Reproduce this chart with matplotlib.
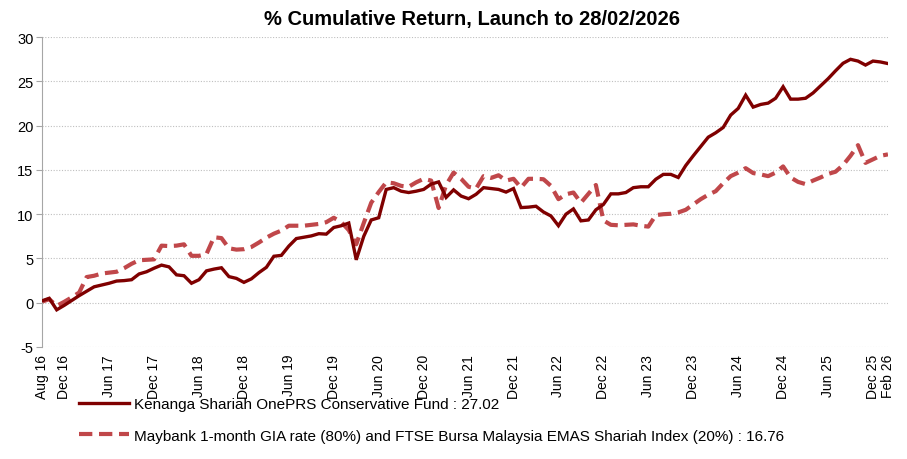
"""
% cumulative return chart: Kenanga Shariah OnePRS Conservative Fund vs benchmark.
"""

import numpy as np
import matplotlib
matplotlib.use("Agg")
import matplotlib.pyplot as plt

plt.rcParams['font.family'] = ['Liberation Sans', 'DejaVu Sans']
plt.rcParams['axes.unicode_minus'] = False

# monthly cumulative returns (%), launch (Aug 16) to Feb 26
fund = [0.2, 0.5, -0.8, -0.3, 0.25, 0.8, 1.3, 1.8, 2.0, 2.2,
        2.45, 2.5, 2.6, 3.25, 3.5, 3.9, 4.25, 4.05, 3.15, 3.05,
        2.2, 2.6, 3.6, 3.8, 3.95, 2.95, 2.75, 2.3, 2.7, 3.4,
        4.0, 5.25, 5.35, 6.4, 7.25, 7.4, 7.55, 7.8, 7.75, 8.5,
        8.7, 9.0, 4.85, 7.5, 9.35, 9.6, 12.8, 13.0, 12.6, 12.45,
        12.6, 12.8, 13.4, 13.65, 11.9, 12.75, 12.05, 11.75, 12.25, 13.0,
        12.9, 12.8, 12.5, 12.9, 10.75, 10.8, 10.9, 10.25, 9.8, 8.7,
        10.0, 10.6, 9.25, 9.35, 10.5, 11.1, 12.3, 12.3, 12.45, 13.0,
        13.1, 13.1, 13.95, 14.5, 14.5, 14.15, 15.5, 16.6, 17.65, 18.7,
        19.2, 19.8, 21.2, 21.95, 23.45, 22.1, 22.4, 22.55, 23.1, 24.4,
        23.0, 23.0, 23.1, 23.7, 24.5, 25.3, 26.2, 27.05, 27.5, 27.3,
        26.85, 27.3, 27.2, 27.02]

benchmark = [0.1, 0.4, -0.35, 0.1, 0.6, 1.15, 2.9, 3.05, 3.3, 3.4,
             3.5, 3.9, 4.4, 4.8, 4.85, 4.9, 6.45, 6.4, 6.45, 6.6,
             5.3, 5.3, 5.5, 7.4, 7.3, 6.15, 6.0, 6.05, 6.3, 6.8,
             7.35, 7.8, 8.15, 8.7, 8.7, 8.7, 8.8, 8.9, 9.1, 9.6,
             9.1, 8.2, 6.6, 9.0, 11.3, 12.5, 13.6, 13.5, 13.2, 13.1,
             13.6, 14.0, 13.8, 10.7, 13.3, 14.7, 14.0, 13.1, 12.9, 14.3,
             14.1, 14.4, 13.8, 14.0, 13.0, 14.0, 14.0, 13.95, 13.2, 11.7,
             12.25, 12.45, 11.3, 12.3, 13.3, 9.3, 8.8, 8.75, 8.8, 8.85,
             8.7, 8.6, 9.9, 10.0, 10.05, 10.2, 10.5, 11.1, 11.7, 12.2,
             12.6, 13.5, 14.3, 14.7, 15.2, 14.65, 14.5, 14.3, 14.7, 15.4,
             14.15, 13.65, 13.4, 13.8, 14.15, 14.55, 14.8, 15.55, 16.6, 17.8,
             15.8, 16.2, 16.6, 16.76]

tick_labels = ["Aug 16", "Dec 16", "Jun 17", "Dec 17", "Jun 18", "Dec 18",
               "Jun 19", "Dec 19", "Jun 20", "Dec 20", "Jun 21", "Dec 21",
               "Jun 22", "Dec 22", "Jun 23", "Dec 23", "Jun 24", "Dec 24",
               "Jun 25", "Dec 25", "Feb 26"]

fund_label = "Kenanga Shariah OnePRS Conservative Fund : 27.02"
bench_label = ("Maybank 1-month GIA rate (80%) and FTSE Bursa Malaysia "
               "EMAS Shariah Index (20%) : 16.76")

x = np.arange(len(fund))
tick_pos = [0] + list(range(3, len(fund) - 2, 6)) + [len(fund) - 1]

fig = plt.figure(figsize=(9.07, 4.6), dpi=100)
ax = fig.add_axes([0.046, 0.2435, 0.933, 0.6735])

ax.plot(x, fund, color='#7F0000', lw=2.4, solid_joinstyle='miter',
        label=fund_label, zorder=3)
ax.plot(x, benchmark, color='#C0474A', lw=3.0, dashes=(3.2, 1.6),
        label=bench_label, zorder=2)

ax.set_xlim(0, len(fund) - 1)
ax.set_ylim(-5, 30)
ax.set_yticks(range(-5, 31, 5))
ax.set_xticks(tick_pos)
ax.set_xticklabels(tick_labels, rotation=90, va='top', ha='center')

ax.grid(True, axis='y', linestyle=(0, (1, 1.5)), color='#BFBFBF', lw=0.8)
ax.set_axisbelow(True)
for side in ['top', 'right', 'bottom']:
    ax.spines[side].set_visible(False)
ax.spines['left'].set_color('#A6A6A6')
ax.tick_params(axis='y', length=4, color='#A6A6A6', labelsize=10.5, pad=2)
ax.tick_params(axis='x', length=0, labelsize=10, pad=5)

fig.suptitle("% Cumulative Return, Launch to 28/02/2026", x=0.52, y=0.978,
             fontsize=14.5, fontweight='bold')

leg = fig.legend(loc='upper left', bbox_to_anchor=(0.08, 0.148), frameon=False,
                 fontsize=11, handlelength=3.3, handletextpad=0.3,
                 labelspacing=1.15, borderaxespad=0)

fig.savefig("out.png", dpi=100)
